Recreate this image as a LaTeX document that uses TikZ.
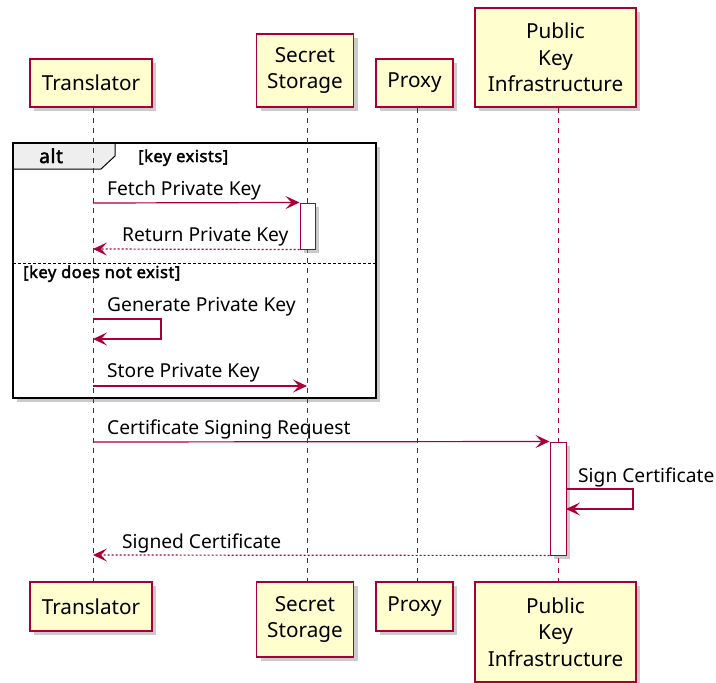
\documentclass[tikz,border=0pt]{standalone}
\usepackage{fontspec}
\setmainfont{Noto Sans}
\newfontfamily\boldsans{Noto Sans}[FakeBold=2.2,LetterSpace=3]
\usetikzlibrary{arrows.meta,shadows}
\definecolor{pborder}{HTML}{A80036}
\definecolor{pfill}{HTML}{FEFECE}
\definecolor{tabfill}{HTML}{EEEEEE}
\tikzset{
  shad/.style={drop shadow={shadow xshift=4pt,shadow yshift=-4pt,fill=black!45,opacity=0.45}},
  participant/.style={draw=pborder, fill=pfill, line width=1.4pt, inner sep=0pt, align=center,
    font=\fontsize{20.7}{26.5}\selectfont, shad},
  life/.style={draw=pborder, line width=1pt, dash pattern=on 5pt off 5pt},
  actbox/.style={draw=pborder, fill=white, line width=1pt, shad},
  msg/.style={draw=pborder, line width=1.2pt, -{Stealth[length=14pt,width=13pt,inset=6pt]}},
  ret/.style={msg, dash pattern=on 2pt off 2pt},
  mlabel/.style={inner sep=0pt, font=\fontsize{19.2}{23}\selectfont, anchor=base west},
  guard/.style={inner sep=0pt, font=\boldsans\fontsize{16.5}{19}\selectfont, anchor=base west},
}
\begin{document}
\begin{tikzpicture}[x=1pt,y=-1pt]
\useasboundingbox (0,0) rectangle (716,683);

% alt frame
\draw[line width=2pt, fill=white, shad] (13,143) rectangle (376,398);
\draw[line width=1pt, fill=tabfill] (13,143) -- (115,143) -- (115,156) -- (101,169) -- (13,169) -- cycle;
\draw[line width=2pt] (13,143) rectangle (376,398);
\node[inner sep=0pt, font=\boldsans\fontsize{19.2}{23}\selectfont, anchor=base west] (altlbl) at (39,163) {alt};
\node[guard] (g1) at (138,162) {[key exists]};
\draw[line width=0.8pt, dash pattern=on 3pt off 2pt] (13,263) -- (376,263);
\node[guard] (g2) at (23,278) {[key does not exist]};

% participants
\node[participant, minimum width=122pt, minimum height=48pt] (trt) at (91,83) {Translator};
\node[participant, minimum width=97pt, minimum height=73pt] (sst) at (305,70.5) {Secret\\Storage};
\node[participant, minimum width=77pt, minimum height=48pt] (prt) at (414.5,83) {Proxy};
\node[participant, minimum width=161pt, minimum height=99pt] (pkt) at (555.5,57.5) {Public\\Key\\Infrastructure};

\node[participant, minimum width=122pt, minimum height=49pt] (trb) at (91,606.5) {Translator};
\node[participant, minimum width=97pt, minimum height=75pt] (ssb) at (305,619.5) {Secret\\Storage};
\node[participant, minimum width=77pt, minimum height=49pt] (prb) at (414.5,606.5) {Proxy};
\node[participant, minimum width=161pt, minimum height=100pt] (pkb) at (555.5,632) {Public\\Key\\Infrastructure};

% lifelines
\draw[life] ([xshift=2pt]trt.south) -- ([xshift=2pt]trb.north);
\draw[life] ([xshift=2pt]sst.south) -- ([xshift=2pt]ssb.north);
\draw[life] ([xshift=2.5pt]prt.south) -- ([xshift=2.5pt]prb.north);
\draw[life] ([xshift=2.5pt]pkt.south) -- ([xshift=2.5pt]pkb.north);

% activations
\node[actbox, minimum width=15pt, minimum height=46pt, inner sep=0pt] (ssact) at (307.5,226) {};
\node[actbox, minimum width=16pt, minimum height=113pt, inner sep=0pt] (pkact) at (558,498.5) {};

% lifeline anchor coordinates
\coordinate (t1) at (93,203);
\coordinate (t2) at (93,249);
\coordinate (t3) at (93,319);
\coordinate (t3r) at (161,319);
\coordinate (t3rb) at (161,339);
\coordinate (t3b) at (93,339);
\coordinate (t4) at (93,386);
\coordinate (s4) at (307,386);
\coordinate (t5) at (93,442);
\coordinate (k6) at (566,489);
\coordinate (k6r) at (633,489);
\coordinate (k6rb) at (633,509);
\coordinate (k6b) at (566,509);
\coordinate (t7) at (93,555);

% messages
\draw[msg] (t1) -- (ssact.north west);
\node[mlabel] (m1) at (107,195) {Fetch Private Key};
\draw[ret] (ssact.south west) -- (t2);
\node[mlabel] (m2) at (122,241) {Return Private Key};
\draw[msg] (t3) -- (t3r) -- (t3rb) -- (t3b);
\node[mlabel] (m3) at (107,311) {Generate Private Key};
\draw[msg] (t4) -- (s4);
\node[mlabel] (m4) at (107,377) {Store Private Key};
\draw[msg] (t5) -- (pkact.north west);
\node[mlabel] (m5) at (107,434) {Certificate Signing Request};
\draw[msg] (k6) -- (k6r) -- (k6rb) -- (k6b);
\node[mlabel] (m6) at (578,482) {Sign Certificate};
\draw[ret] (pkact.south west) -- (t7);
\node[mlabel] (m7) at (122,548) {Signed Certificate};
\end{tikzpicture}
\end{document}
